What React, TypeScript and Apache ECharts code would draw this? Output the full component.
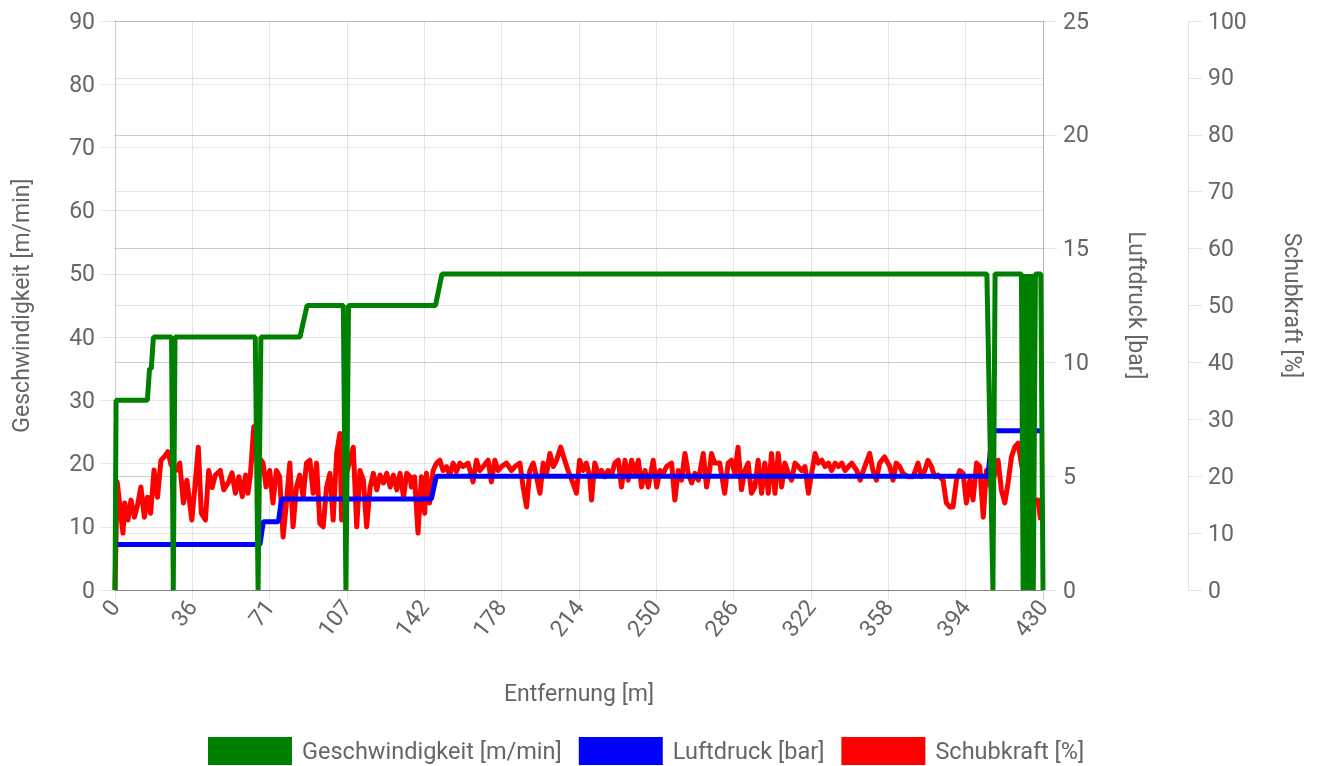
import React, { useEffect, useRef } from "react";
import * as echarts from "echarts";

const xTickLabels = ["0", "36", "71", "107", "142", "178", "214", "250", "286", "322", "358", "394", "430"];

const speedSeries: [number, number][] = [
  [0, 0], [0.5, 30], [15, 30], [16, 35], [16.8, 35], [17.8, 40],
  [26.2, 40], [27, 0], [27.8, 40],
  [65, 40], [66.3, 0], [67.6, 40],
  [85.7, 40], [89, 45],
  [105.8, 45], [107, 0], [108.2, 45],
  [148.5, 45], [151.5, 50],
  [404, 50], [406.8, 0], [407.8, 50],
  [420, 50], [420.8, 0], [421.5, 50], [422.2, 0], [423, 50], [423.6, 0], [424.3, 50],
  [425.5, 0], [426.5, 50], [429, 50], [430, 0],
];

const pressureSeries: [number, number][] = [
  [0, 2], [67.2, 2], [68.7, 3], [75.7, 3], [77.2, 4],
  [146.6, 4], [148.9, 5], [404.5, 5], [406.5, 7], [430, 7],
];

const thrustSeries: [number, number][] = [
  [0, 0], [1, 19], [3.7, 10], [4.5, 15.3], [6, 12.3], [7.4, 15.8], [9, 12.8], [10.5, 15], [12, 18.1],
  [13.6, 12.8], [15, 16.3], [16.5, 13.5], [18.1, 21.1], [19.7, 16.3], [21.3, 22.8], [22.8, 23.4],
  [24.5, 24.3], [26, 22], [28.6, 21.1], [30, 22.3], [31.7, 15.3], [33.3, 19.3], [35.6, 12.3], [37, 18],
  [38.6, 25.1], [40, 13.5], [41.9, 12.3], [43.4, 21], [45, 18], [46.5, 20.2], [48.8, 21], [50.4, 17.6],
  [52.7, 19], [54.2, 20.6], [55.8, 17], [57.4, 19.9], [59, 16.4], [60.5, 20.2], [61.6, 17], [62.8, 20.5],
  [64.3, 28.7], [65.5, 24], [68.6, 22.3], [70, 18.1], [71.7, 21], [73.2, 15.3], [74.8, 21], [76.3, 19.9],
  [77.9, 9.3], [79.4, 15.3], [81, 22.3], [82.5, 11.1], [84.1, 18.1], [85.6, 20.2], [87.2, 16.3],
  [88.7, 22.3], [90.3, 22.8], [91.8, 17], [93.4, 22.3], [94.9, 11.7], [96.5, 11.1], [98, 18], [99.6, 20.5],
  [101.1, 12.3], [102.7, 24], [104.2, 27.5], [105, 12.3], [107, 20], [110.4, 25.1], [112, 11.1], [113.5, 21],
  [115.1, 19.3], [116.6, 11.1], [118.2, 18], [119.7, 20.5], [121.3, 17.6], [122.8, 20.2], [124.4, 18.8],
  [125.9, 20.5], [127.5, 18.1], [129, 20.2], [130.6, 17.6], [132.1, 20.5], [133.7, 16.3], [135.2, 20.5],
  [136.8, 19.9], [137.3, 18.1], [138.8, 19.9], [140.4, 10], [142, 19.9], [143.5, 13.5], [144.3, 20.5],
  [145.8, 15.3], [147.4, 21], [149, 22.3], [150.5, 22.8], [152, 21], [153.6, 21.7], [155.1, 20.2],
  [156.7, 22.3], [158.2, 20.8], [159.8, 22.3], [161.3, 21.7], [163.6, 22.3], [165.9, 19], [167.5, 22.8],
  [169, 21], [170.6, 21.7], [172.9, 22.8], [174.4, 19], [176, 22.8], [177.5, 21], [179.1, 21.7],
  [181.4, 22.3], [183.7, 21], [185.3, 21.7], [187.6, 22.3], [189.1, 18.1], [190.7, 14.6], [192.2, 21],
  [193.8, 22.3], [195.3, 19.9], [196.9, 17], [198.4, 22.3], [200, 20.5], [201.5, 24], [203.1, 21.7],
  [204.6, 22.8], [206.5, 25.1], [208.4, 22.8], [209.9, 21], [212.2, 18.8], [213.8, 17], [215.3, 22.8],
  [216.9, 21], [218.4, 22.3], [220, 19.9], [220.8, 15.8], [222.3, 22.3], [223.9, 20.5], [225.4, 21],
  [227, 19.9], [228.5, 21], [230.1, 20.2], [231.6, 22.3], [233.2, 22.8], [234.7, 18.1], [236.3, 22.8],
  [237.8, 19.3], [239.4, 22.8], [240.9, 20.5], [242.5, 22.8], [244, 18.1], [245.6, 21], [247.1, 18.1],
  [249.4, 22.8], [251, 18.1], [252.5, 21], [254.1, 20.5], [255.6, 21.7], [257.9, 22.3], [259.4, 15.8],
  [261, 21], [262.5, 19.3], [264.1, 24], [265.6, 20.5], [267.2, 18.8], [268.7, 20.5], [270.3, 19.3],
  [272.6, 24], [274.1, 18.1], [275.5, 21], [276.4, 24], [277.9, 22.3], [280.2, 22.3], [282.5, 17],
  [284.1, 22.3], [285.6, 22.8], [287.2, 20.5], [288.7, 25.1], [290.3, 17.6], [291.8, 21], [293.4, 22.3],
  [294.9, 17], [296.5, 18.1], [298, 22.8], [299.6, 17], [301.1, 22.3], [302.7, 17], [304.2, 24],
  [305.8, 17], [307.3, 24], [308.9, 18.1], [310.4, 22.3], [312, 20.5], [313.5, 19.3], [315.1, 22.3],
  [316.6, 21.7], [318.2, 21], [319.7, 21.7], [321.3, 17], [322.8, 20.5], [324.4, 24], [325.9, 22.3],
  [327.5, 22.8], [329, 21.7], [330.6, 22.3], [332.1, 21], [333.7, 22.3], [335.2, 21.7], [336.8, 22.3],
  [338.3, 21], [339.9, 21.7], [341.4, 22.3], [343.7, 21], [345.3, 19.3], [347.4, 21.7], [349.7, 24],
  [351.2, 21], [352.8, 19.3], [354.3, 22.3], [356.6, 23.4], [359, 21.7], [360.5, 19.3], [362, 22.3],
  [363.6, 21.7], [365.1, 20.5], [367.5, 19.9], [369.8, 19.9], [372.1, 22.3], [373.6, 19.9], [375.2, 21],
  [376.7, 22.8], [378.3, 21.7], [379.8, 19.9], [381.4, 20.2], [383.7, 19.3], [385.2, 15.3], [386.8, 14.6],
  [388.3, 14.6], [389.9, 19.3], [391.4, 21], [393, 20.5], [394.5, 15.3], [396.1, 19.3], [397.6, 15.8],
  [399.2, 22.3], [400.7, 21.7], [402.3, 12.8], [403.8, 21], [406, 18], [409.2, 22.8], [410.7, 17.6],
  [412.3, 15.3], [413.8, 18.8], [415.4, 23.4], [416.9, 25.1], [418.5, 25.8], [419.7, 22.8], [422, 18],
  [426.1, 15.8], [427.7, 15.8], [428.9, 12.3],
];

const TXT = "#666";
const GRID = "rgba(0,0,0,0.1)";
const FS = 23;

export default function App() {
  const ref = useRef<HTMLDivElement>(null);
  useEffect(() => {
    const chart = echarts.init(ref.current!, null, { renderer: "svg" });
    const yCommon = {
      type: "value",
      nameLocation: "middle",
      nameTextStyle: { color: TXT, fontSize: FS },
      axisLine: { show: true, lineStyle: { color: GRID, width: 1 } },
      axisTick: { show: true, length: 14, lineStyle: { color: GRID } },
      axisLabel: { color: TXT, fontSize: FS, margin: 20 },
      splitLine: { show: true, lineStyle: { color: GRID, width: 1 } },
    };
    chart.setOption({
      animation: false,
      textStyle: { fontFamily: "Roboto" },
      grid: { left: 115, right: 276, top: 21, bottom: 176, containLabel: false },
      legend: {
        left: 203,
        top: 732,
        icon: "rect",
        itemWidth: 84,
        itemHeight: 28,
        itemGap: 17,
        textStyle: { color: TXT, fontSize: 23.5, padding: [0, 0, 0, 5] },
        data: ["Geschwindigkeit [m/min]", "Luftdruck [bar]", "Schubkraft [%]"],
      },
      xAxis: {
        type: "value",
        min: 0,
        max: 430,
        interval: 430 / 12,
        name: "Entfernung [m]",
        nameLocation: "middle",
        nameGap: 92,
        nameTextStyle: { color: TXT, fontSize: FS },
        axisLine: { show: true, lineStyle: { color: "rgba(0,0,0,0.3)", width: 1 } },
        axisTick: { show: true, length: 10, lineStyle: { color: GRID } },
        axisLabel: {
          rotate: 52,
          color: TXT,
          fontSize: FS,
          margin: 13,
          formatter: (_v: number, i: number) => xTickLabels[i] ?? "",
        },
        splitLine: { show: true, lineStyle: { color: GRID, width: 1 } },
      },
      yAxis: [
        {
          ...yCommon,
          min: 0,
          max: 90,
          interval: 10,
          position: "left",
          name: "Geschwindigkeit [m/min]",
          nameGap: 82,
        },
        {
          ...yCommon,
          min: 0,
          max: 25,
          interval: 5,
          position: "right",
          offset: 0,
          name: "Luftdruck [bar]",
          nameRotate: -90,
          nameGap: 82,
        },
        {
          ...yCommon,
          min: 0,
          max: 100,
          interval: 10,
          position: "right",
          offset: 145,
          name: "Schubkraft [%]",
          nameRotate: -90,
          nameGap: 93,
        },
      ],
      series: [
        {
          name: "Schubkraft [%]",
          type: "line",
          yAxisIndex: 2,
          data: thrustSeries,
          symbol: "none",
          lineStyle: { color: "#ff0000", width: 5, join: "round" },
          itemStyle: { color: "#ff0000" },
        },
        {
          name: "Luftdruck [bar]",
          type: "line",
          yAxisIndex: 1,
          data: pressureSeries,
          symbol: "none",
          lineStyle: { color: "#0000ff", width: 5 },
          itemStyle: { color: "#0000ff" },
        },
        {
          name: "Geschwindigkeit [m/min]",
          type: "line",
          yAxisIndex: 0,
          data: speedSeries,
          symbol: "none",
          lineStyle: { color: "#008000", width: 5 },
          itemStyle: { color: "#008000" },
        },
      ],
    });
    return () => chart.dispose();
  }, []);
  return (
    <div
      ref={ref}
      style={{ position: "fixed", left: 0, top: 0, width: 1319, height: 766 }}
    />
  );
}
